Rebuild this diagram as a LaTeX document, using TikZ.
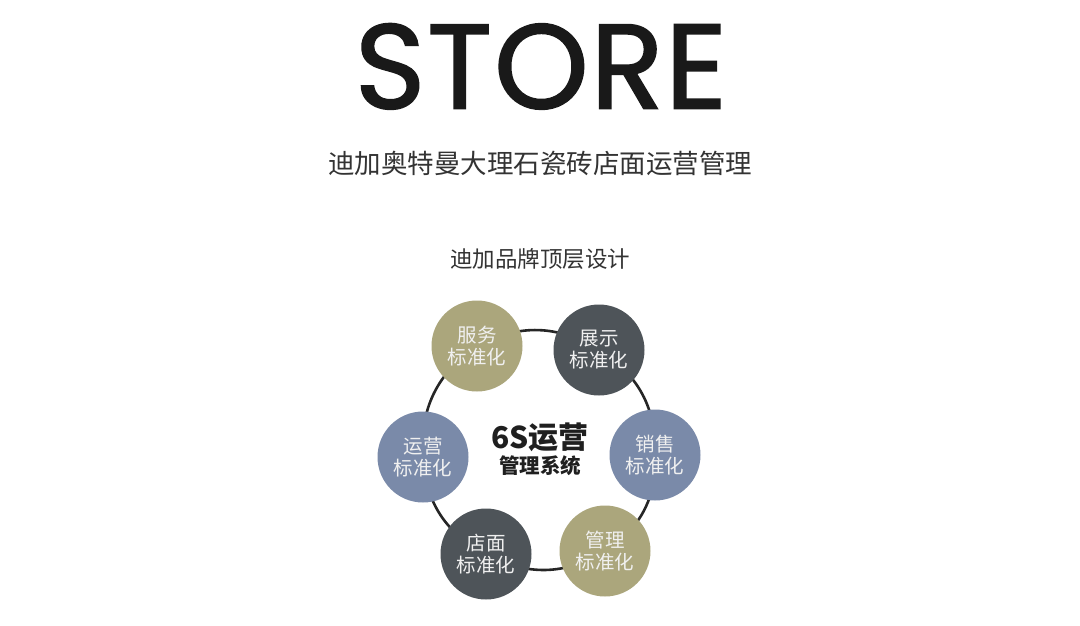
\documentclass[tikz,border=0pt]{standalone}
\usepackage{fontspec}
\usetikzlibrary{backgrounds}
\newfontfamily\cjk{Noto Sans CJK SC}
\newfontfamily\titlefont[FakeBold=1.6]{Poppins}
\definecolor{olive}{HTML}{ABA67C}
\definecolor{slate}{HTML}{4E5459}
\definecolor{bluegray}{HTML}{7A8AA9}
\definecolor{txt}{HTML}{333333}
\tikzset{
  unit/.style={circle, minimum size=91pt, inner sep=0pt, text=white!94!black,
    font=\cjk\fontsize{19.5}{22}\selectfont, align=center},
  ring/.style={line width=2.6pt, black!85},
}
\begin{document}
\begin{tikzpicture}[x=1pt,y=-1pt]
\useasboundingbox (0,0) rectangle (1080,626);
\node[font=\titlefont\fontsize{120}{120}\selectfont, text=black!90, inner sep=0pt, text depth=0pt] (title) at (541,66) {S\kern2pt T\kern2pt O\kern2pt R\kern2pt E};
\node[font=\cjk\fontsize{26.5}{26.5}\selectfont, text=txt, inner sep=0pt] (sub) at (540,163) {迪加奥特曼大理石瓷砖店面运营管理};
\node[font=\cjk\fontsize{22.5}{22.5}\selectfont, text=txt, inner sep=0pt] (brand) at (540,259) {迪加品牌顶层设计};

\node[unit, fill=olive] (fw) at (477,346) {服务\\标准化};
\node[unit, fill=slate] (zs) at (599,350) {展示\\标准化};
\node[unit, fill=bluegray] (xs) at (655,455) {销售\\标准化};
\node[unit, fill=olive] (gl) at (605,551) {管理\\标准化};
\node[unit, fill=slate] (dm) at (486,554) {店面\\标准化};
\node[unit, fill=bluegray] (yy) at (423,457) {运营\\标准化};

\begin{scope}[on background layer]
\fill[white] (0,0) rectangle (1080,626);
\draw[ring] (fw.center) to[bend left=30] (zs.center)
  to[bend left=30] (xs.center)
  to[bend left=30] (gl.center)
  to[bend left=30] (dm.center)
  to[bend left=30] (yy.center)
  to[bend left=30] (fw.center);
\end{scope}

\node[font=\cjk\bfseries\fontsize{30}{30}\selectfont, text=black!88, inner sep=0pt] (c1) at (540,437) {6S运营};
\node[font=\cjk\bfseries\fontsize{20.5}{20.5}\selectfont, text=black!88, inner sep=0pt] (c2) at (540,466) {管理系统};
\end{tikzpicture}
\end{document}
